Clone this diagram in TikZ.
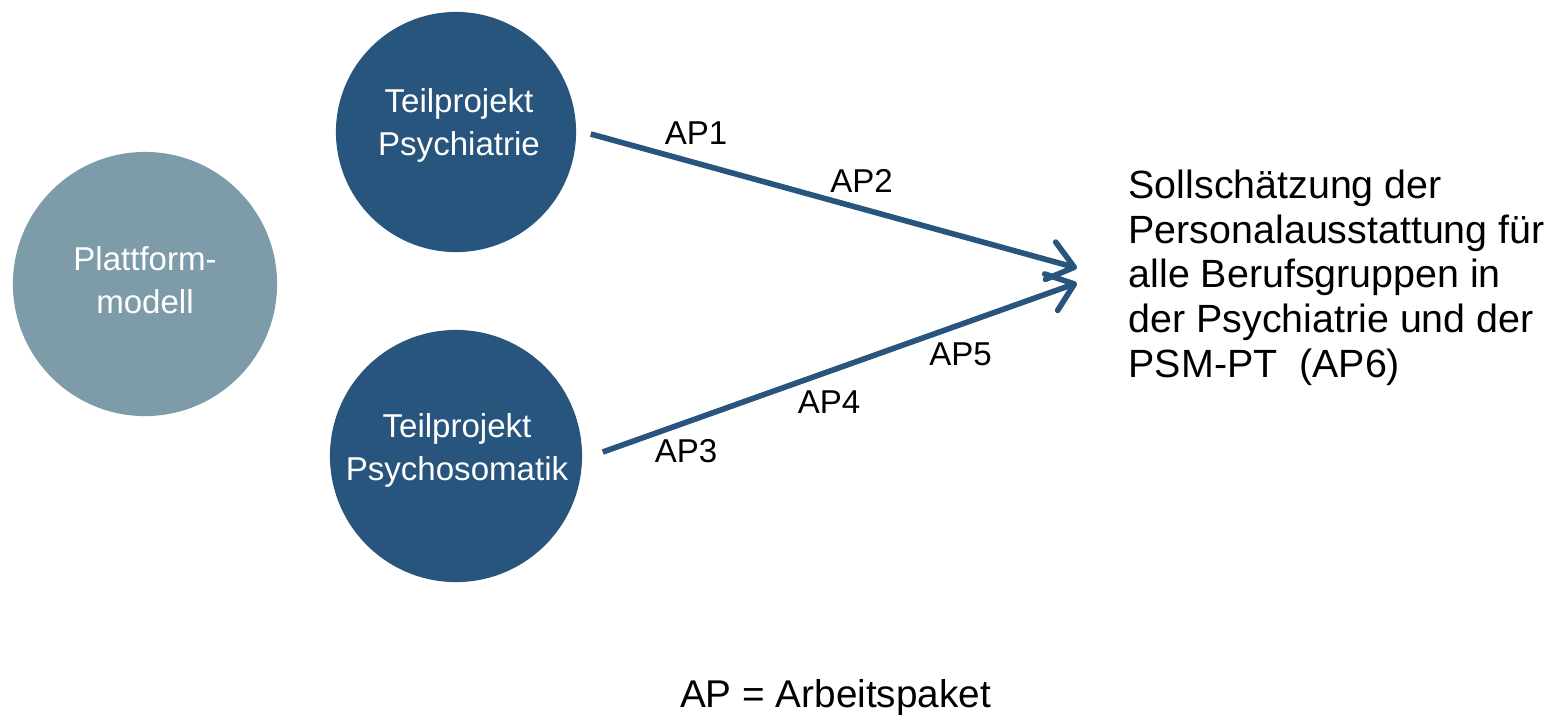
\documentclass[tikz,border=0pt]{standalone}
\usepackage{fontspec}
\setmainfont{Liberation Sans}
\usetikzlibrary{arrows.meta}
\definecolor{dblue}{RGB}{40,85,125}
\definecolor{gblue}{RGB}{125,155,168}
\begin{document}
\begin{tikzpicture}[x=0.01cm,y=-0.01cm,
  circ/.style={circle, inner sep=0pt, minimum size=#1},
  ctext/.style={text=white, font=\fontsize{9.4}{12.1}\selectfont, align=center, inner sep=0pt, anchor=base},
  aplabel/.style={font=\fontsize{9.4}{11}\selectfont, inner sep=0pt, anchor=base},
  conn/.style={draw=dblue, line width=1.6pt, -{Straight Barb[length=7pt,width=11pt,round]}}
]
\useasboundingbox (0,0) rectangle (1563,714);
% circles
\node[circ=2.64cm, fill=gblue] (plat) at (145,284) {};
\node[circ=2.40cm, fill=dblue] (psy) at (456,132) {};
\node[circ=2.52cm, fill=dblue] (psm) at (456,456) {};
% circle texts (anchor at baseline of last line)
\node[ctext] (platt) at (145,313) {Plattform-\\modell};
\node[ctext] (psyt) at (459,155) {Teilprojekt\\Psychiatrie};
\node[ctext] (psmt) at (457,480) {Teilprojekt\\Psychosomatik};
% target text
\node[font=\fontsize{11.2}{12.66}\selectfont, align=left, anchor=base west, inner sep=0pt] (ziel) at (1128,377)
  {Sollschätzung der\\Personalausstattung für\\alle Berufsgruppen in\\der Psychiatrie und der\\PSM-PT\ \ (AP6)};
% arrow tips
\coordinate (t1) at (1077,268);
\coordinate (t2) at (1077,283);
\draw[conn] ([shift={(14,2)}]psy.east) -- (t1);
\draw[conn] ([shift={(20,-4)}]psm.east) -- (t2);
% AP labels
\node[aplabel] (ap1) at (696,144) {AP1};
\node[aplabel] (ap2) at (861.5,192) {AP2};
\node[aplabel] (ap3) at (686,462) {AP3};
\node[aplabel] (ap4) at (829,413) {AP4};
\node[aplabel] (ap5) at (960.5,365) {AP5};
% legend
\node[font=\fontsize{11}{13}\selectfont, anchor=base, inner sep=0pt] (leg) at (835.5,707) {AP = Arbeitspaket};
\end{tikzpicture}
\end{document}
